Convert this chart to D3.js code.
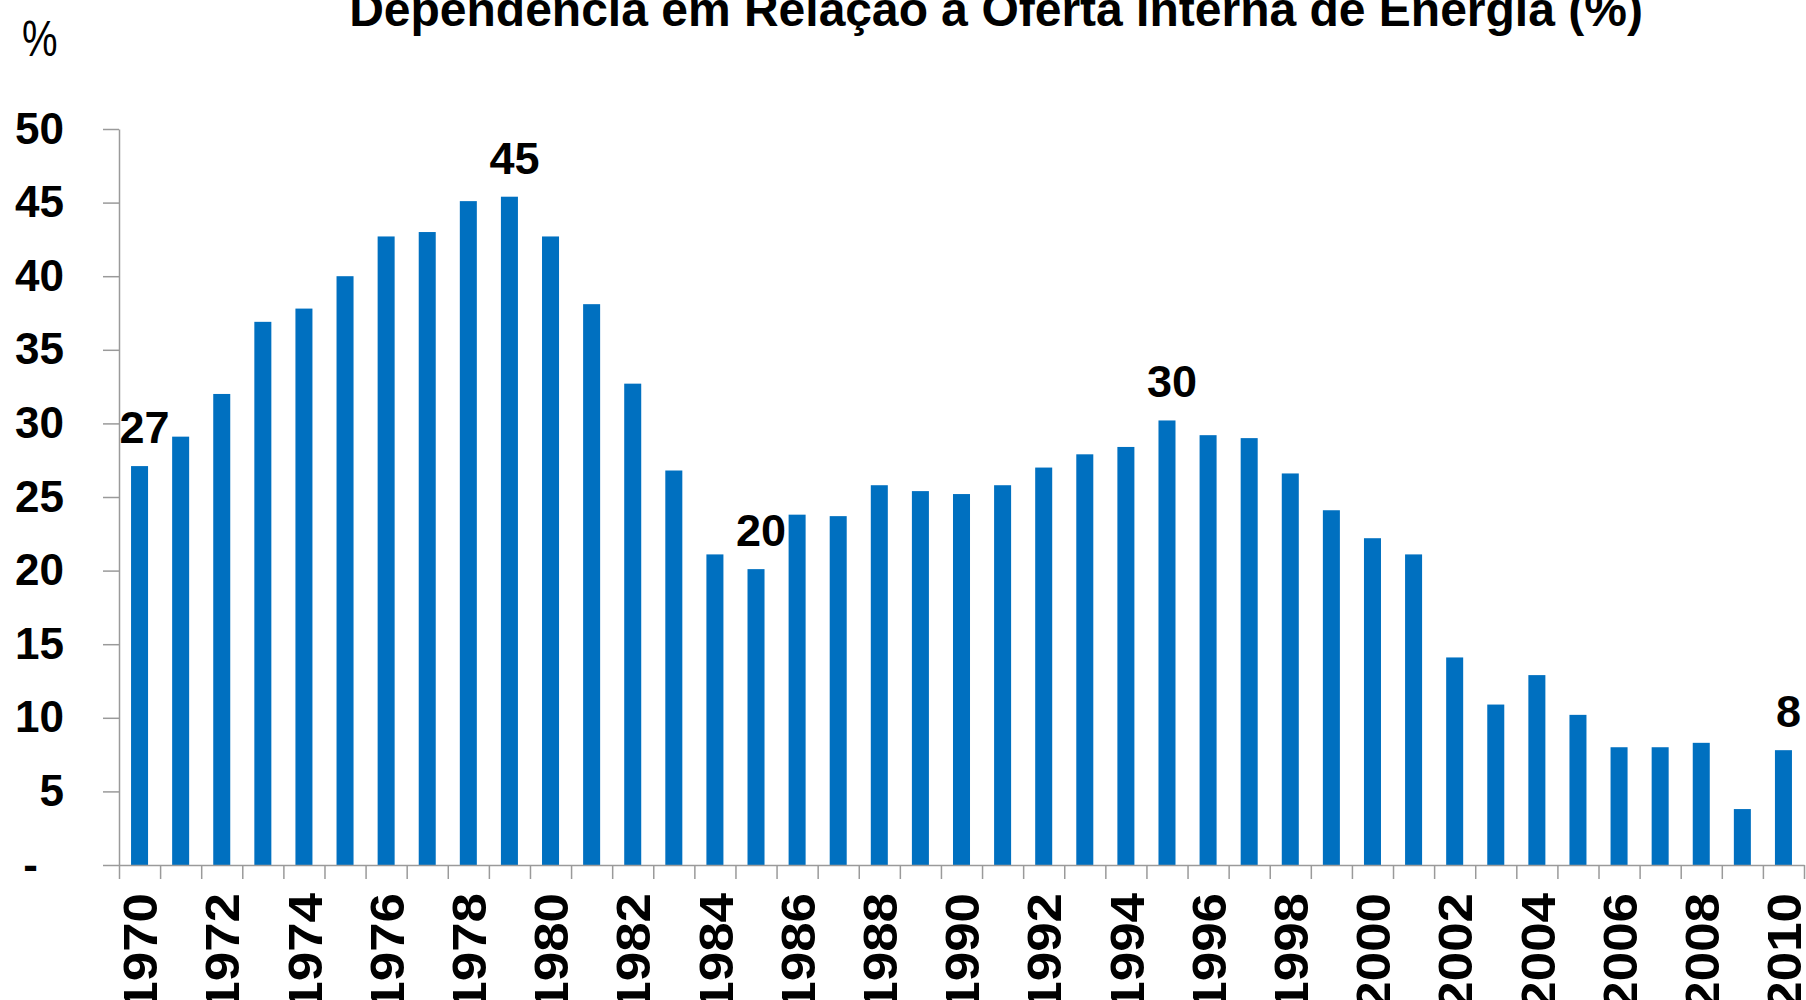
<!DOCTYPE html>
<html>
<head>
<meta charset="utf-8">
<script src="https://cdn.jsdelivr.net/npm/d3@7"></script>
<style>
	body { margin: 0; background: #fff; }
	svg text { font-family: "Liberation Sans", Arial, sans-serif; }
	.axis path, .axis line { stroke: #9a9a9a; stroke-width: 1.5; }
	.tick text { font-weight: bold; font-size: 44px; fill: #000; }
	.labels .tick text { font-size: 49px; }
</style>
</head>
<body>
<div id="graph"></div>
<script>
// values (%)
var years = d3.range(1970, 2011);
var dependence = [27.1, 29.1, 32.0, 36.9, 37.8, 40.0, 42.7, 43.0, 45.1, 45.4,
	42.7, 38.1, 32.7, 26.8, 21.1, 20.1, 23.8, 23.7, 25.8, 25.4,
	25.2, 25.8, 27.0, 27.9, 28.4, 30.2, 29.2, 29.0, 26.6, 24.1,
	22.2, 21.1, 14.1, 10.9, 12.9, 10.2, 8.0, 8.0, 8.3, 3.8,
	7.8];
var yTicks = [0, 5, 10, 15, 20, 25, 30, 35, 40, 45, 50];
var xLabelYears = d3.range(1970, 2011, 2);
// highlighted values
var noteYears = [1970, 1979, 1985, 1995, 2010];
var noteTexts = ["27", "45", "20", "30", "8"];

const margin = { top: 129, right: 2, left: 119, bottom: 135 };
const fullWidth = 1806;
const fullHeight = 1000;
const width = fullWidth - margin.left - margin.right;
const height = fullHeight - margin.top - margin.bottom;

var root = d3.select("#graph")
	.append("svg")
	.attr("width", fullWidth)
	.attr("height", fullHeight);

var svg = root.append("g")
	.attr('transform', 'translate(' + margin.left + ',' + margin.top + ')');

var data = years.map(function (y, i) { return { year: y, value: dependence[i] }; });

var xScale = d3.scaleBand()
	.domain(years)
	.range([0, width])
	.paddingInner(0.586)
	.paddingOuter(0.293);

// edges between the years, where the category ticks sit
var xEdge = d3.scaleLinear()
	.domain([1970, 2011])
	.range([0, width]);

var yScale = d3.scaleLinear()
	.domain([0, 50])
	.range([height, 0]);

// y axis
var yAxis = svg.append("g")
	.classed('y axis', true)
	.call(d3.axisLeft(yScale)
		.tickValues(yTicks)
		.tickSize(16)
		.tickSizeOuter(0)
		.tickPadding(39)
		.tickFormat(function (d) { return d === 0 ? "-" : d; }));

yAxis.selectAll(".tick text")
	.filter(function (d) { return d === 0; })
	.attr("dx", -26);

// bars
svg.append("g").selectAll(".bar")
	.data(data)
	.enter().append("rect")
	.attr("class", "bar")
	.attr("fill", "#0070c0")
	.attr("x", (d) => xScale(d.year))
	.attr("y", (d) => yScale(d.value))
	.attr("width", xScale.bandwidth())
	.attr("height", (d) => height - yScale(d.value));

// x axis: ticks between the bars
svg.append("g")
	.classed('x axis', true)
	.attr('transform', `translate(0, ${height})`)
	.call(d3.axisBottom(xEdge)
		.tickValues(d3.range(1970, 2012))
		.tickSize(14)
		.tickSizeOuter(0)
		.tickFormat(''));

// x labels, every other year, rotated (slightly stretched along the text like the original)
var xLabels = svg.append("g")
	.classed('x labels', true)
	.attr('transform', `translate(0, ${height})`)
	.call(d3.axisBottom(xScale)
		.tickValues(xLabelYears)
		.tickSize(0));

xLabels.select(".domain").remove();
xLabels.selectAll(".tick text")
	.attr("transform", "rotate(-90) scale(1.08, 1)")
	.attr("text-anchor", "end")
	.attr("x", -28 / 1.08)
	.attr("y", 0)
	.attr("dy", "0.36em");

// value notes above selected bars
svg.append("g").selectAll(".note")
	.data(noteYears)
	.enter().append("text")
	.attr("class", "note")
	.attr("x", (d) => xScale(d) + xScale.bandwidth() / 2 + 5)
	.attr("y", (d, i) => yScale(dependence[years.indexOf(d)]) - 23)
	.attr("text-anchor", "middle")
	.style("font-weight", "bold")
	.style("font-size", "45px")
	.text((d, i) => noteTexts[i]);

// title
root.append("text")
	.text("Dependência em Relação à Oferta Interna de Energia (%)")
	.attr("x", 996)
	.attr("y", 26)
	.attr("text-anchor", "middle")
	.style("font-weight", "bold")
	.style("font-size", "48px");

// unit, a bit narrow in the original
root.append("g")
	.attr("transform", "translate(22, 56) scale(0.8, 1)")
	.append("text")
	.text("%")
	.style("font-size", "50px");
</script>
</body>
</html>
